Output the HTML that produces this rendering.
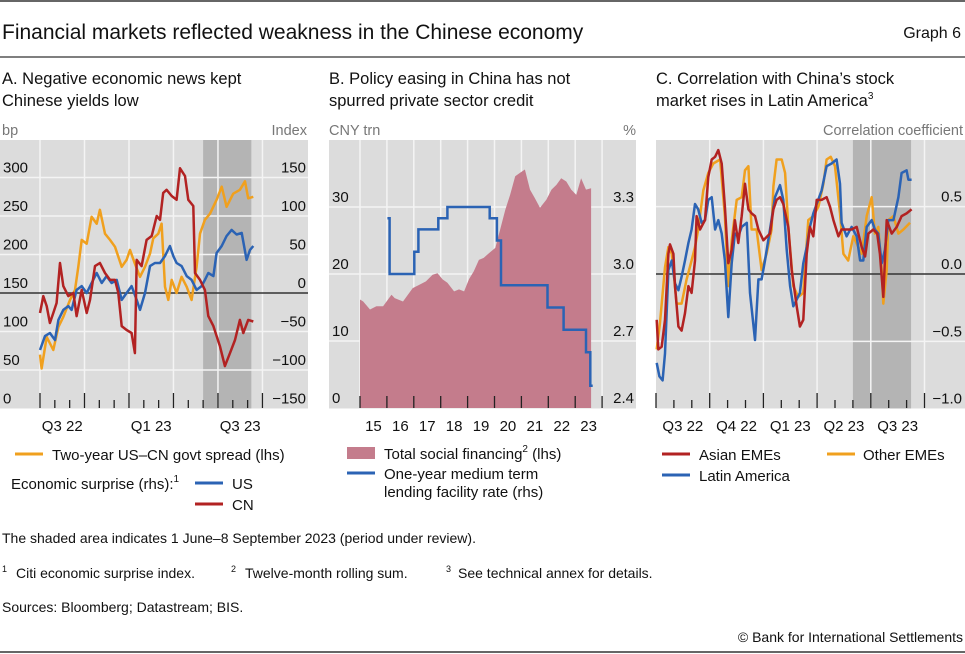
<!DOCTYPE html>
<html><head><meta charset="utf-8"><style>
html,body{margin:0;padding:0;background:#fff}
svg{display:block;font-family:"Liberation Sans",sans-serif}
</style></head><body>
<svg id="chart" width="965" height="654" viewBox="0 0 965 654" xmlns="http://www.w3.org/2000/svg">
<line x1="0" y1="1" x2="965" y2="1" stroke="#333" stroke-width="1.5"/>
<text x="2" y="39" font-size="21" fill="#111">Financial markets reflected weakness in the Chinese economy</text>
<text x="961" y="38" font-size="16" fill="#111" text-anchor="end">Graph 6</text>
<line x1="0" y1="57" x2="965" y2="57" stroke="#555" stroke-width="1.5"/>
<g font-size="16.5" fill="#111">
<text x="2" y="84">A. Negative economic news kept<tspan x="2" y="106">Chinese yields low</tspan></text>
<text x="329" y="84">B. Policy easing in China has not<tspan x="329" y="106">spurred private sector credit</tspan></text>
<text x="656" y="84">C. Correlation with China’s stock<tspan x="656" y="106">market rises in Latin America</tspan><tspan font-size="10" dy="-7">3</tspan></text>
</g>
<g font-size="14.5" fill="#777">
<text x="2" y="135">bp</text>
<text x="307" y="135" text-anchor="end">Index</text>
<text x="329" y="135">CNY trn</text>
<text x="636" y="135" text-anchor="end">%</text>
<text x="963" y="135" text-anchor="end">Correlation coefficient</text>
</g>
<g id="pa"></g><g id="pb"></g><g id="pc"></g>
<g font-size="15" fill="#111">
<line x1="15" y1="454" x2="43" y2="454" stroke="#f0a01e" stroke-width="3"/>
<text x="52" y="460">Two-year US–CN govt spread (lhs)</text>
<text x="11" y="489">Economic surprise (rhs):<tspan font-size="10" dy="-7">1</tspan></text>
<line x1="195" y1="483" x2="223" y2="483" stroke="#2b63b4" stroke-width="3"/>
<text x="232" y="489">US</text>
<line x1="195" y1="504" x2="223" y2="504" stroke="#b22222" stroke-width="3"/>
<text x="232" y="510">CN</text>
<rect x="347" y="447" width="28" height="12" fill="#c47c8c"/>
<text x="384" y="459">Total social financing<tspan font-size="10" dy="-7">2</tspan><tspan dy="7"> (lhs)</tspan></text>
<line x1="347" y1="473" x2="375" y2="473" stroke="#2b63b4" stroke-width="3"/>
<text x="384" y="479">One-year medium term<tspan x="384" y="497">lending facility rate (rhs)</tspan></text>
<line x1="662" y1="454" x2="690" y2="454" stroke="#b22222" stroke-width="3"/>
<text x="699" y="460">Asian EMEs</text>
<line x1="827" y1="454" x2="855" y2="454" stroke="#f0a01e" stroke-width="3"/>
<text x="863" y="460">Other EMEs</text>
<line x1="662" y1="475" x2="690" y2="475" stroke="#2b63b4" stroke-width="3"/>
<text x="699" y="481">Latin America</text>
</g>
<g font-size="14" fill="#111">
<text x="2" y="543">The shaded area indicates 1 June–8 September 2023 (period under review).</text>
<g>
<text x="2" y="572" font-size="9">1</text>
<text x="16" y="578">Citi economic surprise index.</text>
<text x="231" y="572" font-size="9">2</text>
<text x="245" y="578">Twelve-month rolling sum.</text>
<text x="446" y="572" font-size="9">3</text>
<text x="458" y="578">See technical annex for details.</text>
</g>
<text x="2" y="612">Sources: Bloomberg; Datastream; BIS.</text>
<text x="963" y="642" text-anchor="end">© Bank for International Settlements</text>
</g>
<line x1="0" y1="652" x2="965" y2="652" stroke="#333" stroke-width="1.5"/>
</svg>
<script>
// ---- Panel A data (x = months since 1 Jul 2022) ----
const spreadSeries = [[0,70],[0.11,52],[0.45,93],[0.9,76],[1.24,106],[1.57,119],[2.02,141],[2.36,154],[2.58,184],[2.81,219],[3.15,214],[3.48,249],[3.82,240],[4.04,258],[4.38,227],[4.72,219],[5.06,210],[5.51,184],[5.84,193],[6.07,206],[6.4,188],[6.74,171],[7.08,184],[7.42,201],[7.64,221],[7.98,227],[8.2,240],[8.43,158],[8.65,141],[8.88,167],[9.21,150],[9.55,171],[9.89,158],[10.22,141],[10.56,184],[10.79,227],[11.12,245],[11.46,253],[11.91,271],[12.25,288],[12.58,262],[13.03,279],[13.48,284],[13.82,295],[14.04,273],[14.38,275]];
const usSurprise = [[0,-74],[0.34,-56],[0.67,-52],[1.01,-61],[1.24,-35],[1.57,-22],[1.91,-17],[2.13,-22],[2.47,4],[2.81,9],[3.15,0],[3.48,13],[3.82,26],[4.16,13],[4.49,22],[4.83,13],[5.17,17],[5.51,-9],[5.84,0],[6.18,9],[6.52,-9],[6.74,-22],[7.08,0],[7.42,35],[7.75,39],[8.09,39],[8.43,48],[8.76,61],[8.99,48],[9.21,39],[9.55,35],[9.89,22],[10.22,17],[10.56,4],[10.9,9],[11.12,17],[11.35,26],[11.69,22],[11.91,52],[12.25,61],[12.58,74],[12.92,82],[13.26,76],[13.6,78],[13.93,43],[14.16,56],[14.38,61]];
const cnSurprise = [[0,-26],[0.22,-4],[0.45,-17],[0.67,-39],[0.9,-26],[1.12,-13],[1.35,39],[1.57,9],[1.91,-4],[2.25,0],[2.47,-30],[2.81,4],[3.15,-26],[3.37,-9],[3.71,35],[4.04,39],[4.38,26],[4.72,17],[5.06,17],[5.28,0],[5.51,-43],[5.84,-48],[6.18,-52],[6.4,-78],[6.52,43],[6.85,35],[7.19,69],[7.53,74],[7.87,100],[8.09,95],[8.31,130],[8.54,134],[8.88,126],[9.21,121],[9.44,162],[9.78,152],[10,121],[10.34,113],[10.45,26],[10.79,17],[11.12,4],[11.35,-30],[11.69,-43],[12.13,-69],[12.47,-95],[12.81,-78],[13.15,-61],[13.48,-35],[13.71,-52],[14.04,-35],[14.38,-37]];
const aLeftTicks = [0,50,100,150,200,250,300];
const aRightTicks = [-150,-100,-50,0,50,100,150];
const aQuarterLabels = ["Q3 22","Q1 23","Q3 23"];
const aShade = [11, 14.25];
// ---- Panel B data (x = year) ----
const tsfSeries = [[2015.0,16.2],[2015.12,15.9],[2015.37,14.7],[2015.61,15.2],[2015.86,15.2],[2016.04,16.2],[2016.17,16.9],[2016.29,16.4],[2016.6,15.9],[2016.96,17.9],[2017.21,18.4],[2017.45,18.9],[2017.7,19.9],[2017.88,20.1],[2018.07,19.2],[2018.25,18.7],[2018.5,17.4],[2018.68,17.7],[2018.87,17.4],[2019.05,19.2],[2019.23,20.4],[2019.42,22.1],[2019.6,22.4],[2019.79,23.1],[2020.03,23.9],[2020.21,26.6],[2020.4,29.6],[2020.58,31.8],[2020.77,34.6],[2020.95,35.1],[2021.13,35.6],[2021.32,32.6],[2021.5,31.3],[2021.69,29.9],[2021.93,31.1],[2022.12,32.6],[2022.3,33.3],[2022.48,34.3],[2022.67,33.8],[2022.85,32.6],[2023.04,31.8],[2023.22,34.3],[2023.4,32.6],[2023.59,32.8]];
const mlfDates = [2016.02,2016.1,2017.02,2017.17,2017.91,2018.25,2019.82,2020.09,2020.24,2021.97,2022.57,2023.4,2023.56,2023.65];
const mlfRates = [3.25,3.0,3.1,3.2,3.25,3.3,3.25,3.15,2.95,2.85,2.75,2.65,2.5,2.5];
const bLeftTicks = [0,10,20,30];
const bRightTicks = [2.4,2.7,3.0,3.3];
const bYearLabels = ["15","16","17","18","19","20","21","22","23"];
// ---- Panel C data (x = months since 1 Jul 2022) ----
const asianCorr = [[0.04,-0.34],[0.13,-0.56],[0.32,-0.54],[0.5,-0.34],[0.69,0.15],[0.78,0.22],[0.97,0.15],[1.06,-0.09],[1.25,-0.39],[1.43,-0.42],[1.62,-0.29],[1.81,-0.09],[1.99,-0.14],[2.18,0.10],[2.27,0.43],[2.46,0.33],[2.74,0.40],[2.92,0.72],[3.11,0.85],[3.3,0.87],[3.48,0.92],[3.67,0.82],[3.85,0.50],[4.04,0.08],[4.23,0.18],[4.41,0.40],[4.6,0.23],[4.79,0.43],[4.97,0.67],[5.16,0.48],[5.34,0.45],[5.53,0.43],[5.72,0.33],[6.0,0.25],[6.37,0.30],[6.56,0.48],[6.74,0.55],[6.93,0.57],[7.11,0.52],[7.39,0.35],[7.58,0.03],[7.86,-0.24],[8.04,-0.39],[8.23,-0.34],[8.42,0.15],[8.6,0.35],[8.79,0.28],[8.98,0.55],[9.25,0.55],[9.53,0.57],[9.72,0.50],[9.91,0.40],[10.19,0.28],[10.37,0.33],[10.65,0.33],[10.93,0.33],[11.21,0.35],[11.49,0.20],[11.68,0.13],[11.86,0.30],[12.14,0.33],[12.36,0.30],[12.51,0.15],[12.7,-0.17],[12.89,0.40],[13.17,0.30],[13.45,0.35],[13.72,0.43],[14.0,0.45],[14.28,0.48]];
const latamCorr = [[0.04,-0.66],[0.19,-0.76],[0.37,-0.79],[0.5,-0.59],[0.69,0.03],[0.88,0.10],[1.06,-0.07],[1.25,-0.12],[1.43,-0.02],[1.62,0.10],[1.81,0.23],[1.99,0.33],[2.18,0.52],[2.36,0.48],[2.55,0.38],[2.74,0.40],[2.92,0.55],[3.11,0.57],[3.3,0.33],[3.48,0.40],[3.67,0.30],[3.85,0.10],[4.04,-0.32],[4.23,0.08],[4.41,0.30],[4.6,0.28],[4.79,0.35],[5.07,0.38],[5.25,-0.14],[5.53,-0.49],[5.72,-0.04],[5.9,-0.04],[6.09,0.10],[6.37,0.33],[6.65,0.57],[6.93,0.66],[7.11,0.55],[7.3,0.18],[7.49,-0.09],[7.67,-0.24],[7.86,-0.19],[8.04,-0.14],[8.23,0.08],[8.42,0.20],[8.6,0.35],[8.79,0.45],[8.98,0.52],[9.25,0.62],[9.53,0.80],[9.81,0.82],[10.09,0.85],[10.28,0.67],[10.37,0.38],[10.65,0.28],[10.93,0.35],[11.21,0.28],[11.4,0.10],[11.58,0.10],[11.77,0.35],[12.05,0.40],[12.23,0.33],[12.42,0.30],[12.61,0.08],[12.79,0.18],[12.98,0.40],[13.26,0.40],[13.54,0.57],[13.72,0.75],[14.0,0.77],[14.1,0.70],[14.28,0.70]];
const otherCorr = [[0.04,-0.56],[0.22,-0.37],[0.5,0.05],[0.69,0.20],[0.88,0.15],[1.15,-0.22],[1.43,-0.22],[1.71,-0.04],[1.99,0.10],[2.18,0.20],[2.36,0.33],[2.64,0.62],[2.92,0.75],[3.2,0.82],[3.58,0.85],[3.85,0.43],[4.04,-0.09],[4.23,0.25],[4.51,0.55],[4.79,0.57],[4.97,0.77],[5.16,0.80],[5.34,0.33],[5.62,0.33],[5.9,0.03],[6.18,0.15],[6.46,0.33],[6.56,0.65],[6.74,0.85],[7.02,0.85],[7.21,0.75],[7.39,0.35],[7.67,-0.09],[7.95,-0.17],[8.23,-0.14],[8.51,0.40],[8.79,0.43],[9.07,0.50],[9.35,0.67],[9.53,0.85],[9.76,0.87],[10.0,0.80],[10.28,0.45],[10.47,0.15],[10.74,0.10],[11.02,0.28],[11.3,0.20],[11.49,0.15],[11.77,0.43],[12.05,0.57],[12.23,0.30],[12.42,0.35],[12.61,0.03],[12.7,-0.22],[12.89,0.03],[12.98,0.40],[13.26,0.43],[13.54,0.30],[13.82,0.33],[14.19,0.38]];
const cTicks = [-1.0,-0.5,0.0,0.5];
const cQuarterLabels = ["Q3 22","Q4 22","Q1 23","Q2 23","Q3 23"];
const cShade = [11, 14.25];

const NS = "http://www.w3.org/2000/svg";
function mk(parent, tag, attrs){const e=document.createElementNS(NS,tag);for(const k in attrs)e.setAttribute(k,attrs[k]);parent.appendChild(e);return e;}
function fmt(v,d){const s=Math.abs(v).toFixed(d);return v<0?"\u2212"+s:s;}
function linePath(pts,fx,fy){return pts.map((p,i)=>(i?"L":"M")+fx(p[0]).toFixed(1)+","+fy(p[1]).toFixed(1)).join("");}

// ===== Panel A =====
(function(){
const g=document.getElementById("pa");
const xA=m=>40+m*14.83, yL=v=>408.5-v*0.77, yR=v=>293-v*0.77;
let r=mk(g,"rect",{x:0,y:140,width:308,height:268.5,fill:"#dcdcdc"});


r=mk(g,"rect",{x:xA(aShade[0]),y:140,width:xA(aShade[1])-xA(aShade[0]),height:268.5,fill:"#b4b4b4"});


for(let q=0;q<=5;q++){const l=mk(g,"line",{x1:xA(q*3),x2:xA(q*3),y1:140,y2:408,stroke:"#f4f4f4","stroke-width":1.5});

}
aLeftTicks.forEach(v=>{if(v>0&&v!==150){const l=mk(g,"line",{x1:0,x2:308,y1:yL(v),y2:yL(v),stroke:"#f4f4f4","stroke-width":1.5});

}
const t=mk(g,"text",{x:3,y:yL(v)-5,"font-size":15,fill:"#111"});t.textContent=v;

});
aRightTicks.forEach(v=>{const t=mk(g,"text",{x:306,y:yR(v)-5,"font-size":15,fill:"#111","text-anchor":"end"});t.textContent=fmt(v,0);

});
let z=mk(g,"line",{x1:0,x2:308,y1:yR(0),y2:yR(0),stroke:"#333","stroke-width":1.5});


for(let m=0;m<=15;m++){const major=m%3===0;const l=mk(g,"line",{x1:xA(m),x2:xA(m),y1:major?393:400,y2:408,stroke:"#222","stroke-width":1.3});

}
aQuarterLabels.forEach((s,i)=>{const t=mk(g,"text",{x:xA(i*6+1.5),y:431,"font-size":15,fill:"#111","text-anchor":"middle"});t.textContent=s;

});
let p=mk(g,"path",{d:linePath(spreadSeries,xA,yL),fill:"none",stroke:"#f0a01e","stroke-width":2.5,"stroke-linejoin":"round"});


p=mk(g,"path",{d:linePath(usSurprise,xA,yR),fill:"none",stroke:"#2b63b4","stroke-width":2.5,"stroke-linejoin":"round"});


p=mk(g,"path",{d:linePath(cnSurprise,xA,yR),fill:"none",stroke:"#b22222","stroke-width":2.5,"stroke-linejoin":"round"});


})();

// ===== Panel B =====
(function(){
const g=document.getElementById("pb");
const xB=y=>360+(y-2015)*26.9, yL=v=>408-v*6.7, yR=v=>408-(v-2.4)*223.3;
let r=mk(g,"rect",{x:329,y:140,width:307,height:268.5,fill:"#dcdcdc"});


for(let y=2015;y<=2024;y++){const l=mk(g,"line",{x1:xB(y),x2:xB(y),y1:140,y2:408,stroke:"#f4f4f4","stroke-width":1.5});

}
bLeftTicks.forEach(v=>{if(v>0){const l=mk(g,"line",{x1:329,x2:636,y1:yL(v),y2:yL(v),stroke:"#f4f4f4","stroke-width":1.5});

}
const t=mk(g,"text",{x:332,y:yL(v)-5,"font-size":15,fill:"#111"});t.textContent=v;

});
bRightTicks.forEach(v=>{const t=mk(g,"text",{x:634,y:yR(v)-5,"font-size":15,fill:"#111","text-anchor":"end"});t.textContent=v.toFixed(1);

});
const first=tsfSeries[0][0], last=tsfSeries[tsfSeries.length-1][0];
let a=mk(g,"path",{d:linePath(tsfSeries,xB,yL)+"L"+xB(last).toFixed(1)+","+yL(0)+"L"+xB(first).toFixed(1)+","+yL(0)+"Z",fill:"#c47c8c"});


for(let y=2015;y<=2024;y++){const l=mk(g,"line",{x1:xB(y),x2:xB(y),y1:396,y2:408,stroke:"#222","stroke-width":1.3});

}
bYearLabels.forEach((s,i)=>{const t=mk(g,"text",{x:xB(2015.5+i),y:431,"font-size":15,fill:"#111","text-anchor":"middle"});t.textContent=s;

});
let d="M"+xB(mlfDates[0]).toFixed(1)+","+yR(mlfRates[0]).toFixed(1);
for(let i=1;i<mlfDates.length;i++){d+="L"+xB(mlfDates[i]).toFixed(1)+","+yR(mlfRates[i-1]).toFixed(1)+"L"+xB(mlfDates[i]).toFixed(1)+","+yR(mlfRates[i]).toFixed(1);}
let p=mk(g,"path",{d:d,fill:"none",stroke:"#2b63b4","stroke-width":2.5});


})();

// ===== Panel C =====
(function(){
const g=document.getElementById("pc");
const xC=m=>656+m*17.9, yC=v=>274-v*134.7;
let r=mk(g,"rect",{x:656,y:140,width:309,height:268.5,fill:"#dcdcdc"});


r=mk(g,"rect",{x:xC(cShade[0]),y:140,width:xC(cShade[1])-xC(cShade[0]),height:268.5,fill:"#b4b4b4"});


for(let q=1;q<=5;q++){const l=mk(g,"line",{x1:xC(q*3),x2:xC(q*3),y1:140,y2:408,stroke:"#f4f4f4","stroke-width":1.5});

}
cTicks.forEach(v=>{if(v!==0&&v>-1){const l=mk(g,"line",{x1:656,x2:965,y1:yC(v),y2:yC(v),stroke:"#f4f4f4","stroke-width":1.5});

}
const t=mk(g,"text",{x:962,y:yC(v)-5,"font-size":15,fill:"#111","text-anchor":"end"});t.textContent=fmt(v,1);

});
let z=mk(g,"line",{x1:656,x2:965,y1:yC(0),y2:yC(0),stroke:"#333","stroke-width":1.5});


for(let m=0;m<=15;m++){const major=m%3===0;const l=mk(g,"line",{x1:xC(m),x2:xC(m),y1:major?393:400,y2:408,stroke:"#222","stroke-width":1.3});

}
cQuarterLabels.forEach((s,i)=>{const t=mk(g,"text",{x:xC(i*3+1.5),y:431,"font-size":15,fill:"#111","text-anchor":"middle"});t.textContent=s;

});
let p=mk(g,"path",{d:linePath(otherCorr,xC,yC),fill:"none",stroke:"#f0a01e","stroke-width":2.5,"stroke-linejoin":"round"});


p=mk(g,"path",{d:linePath(latamCorr,xC,yC),fill:"none",stroke:"#2b63b4","stroke-width":2.5,"stroke-linejoin":"round"});


p=mk(g,"path",{d:linePath(asianCorr,xC,yC),fill:"none",stroke:"#b22222","stroke-width":2.5,"stroke-linejoin":"round"});


})();
</script>
</body></html>
